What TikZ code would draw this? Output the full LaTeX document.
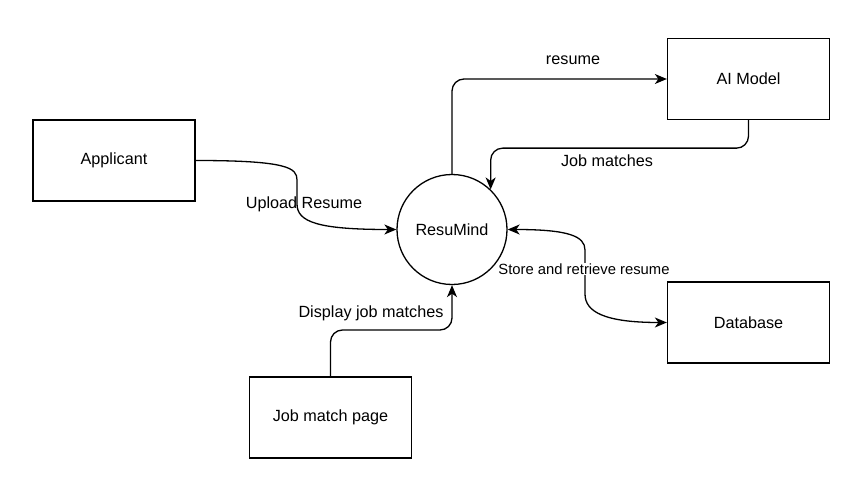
\documentclass[tikz,border=0pt]{standalone}
\usepackage{fontspec}
\setmainfont{Liberation Sans}
\usetikzlibrary{arrows.meta,calc}
\begin{document}
\begin{tikzpicture}[x=1pt,y=-1pt,
  font=\fontsize{16.2}{19}\selectfont,
  box/.style={draw, line width=1.3pt, minimum width=162pt, minimum height=81pt, inner sep=0pt},
  proc/.style={draw, circle, line width=1.3pt, minimum size=110pt, inner sep=0pt},
  conn/.style={line width=1.3pt, rounded corners=12pt},
  arr/.style={-{Stealth[length=12pt,width=10pt,inset=3.5pt]}},
  barr/.style={{Stealth[length=12pt,width=10pt,inset=3.5pt]}-{Stealth[length=12pt,width=10pt,inset=3.5pt]}},
  lbl/.style={inner sep=1pt}]
\useasboundingbox[fill=white] (0,0) rectangle (861,481);

\node[box] (ap) at (114,160.5) {Applicant};
\node[box] (ai) at (748.5,79) {AI Model};
\node[box] (db) at (748.5,322.5) {Database};
\node[box] (jm) at (330.5,417.5) {Job match page};
\node[proc] (rm) at (452,229.5) {ResuMind};

% Upload Resume
\draw[conn,arr] (ap.east) .. controls (288,160.5) and (297,168) .. (297,192)
  .. controls (297,222) and (318,229.5) .. (rm.west);
\node[lbl] (l1) at (304,204) {Upload Resume};

% resume
\draw[conn,arr] (rm.north) |- (ai.west);
\node[lbl] (l2) at (573,60) {resume};

% Job matches
\draw[conn,arr] (ai.south) -- ($(ai.south)+(0,28)$) -| (rm.46);
\node[lbl] (l3) at (607,161) {Job matches};

% Store and retrieve
\draw[conn,barr] (rm.east) .. controls (568,229.5) and (585,236) .. (585,262)
  -- (585,282) .. controls (585,312) and (605,322.5) .. (db.west);
\node[lbl,fill=white,font=\fontsize{14.8}{17}\selectfont] (l4) at (584,269) {Store and retrieve resume};

% Display job matches
\draw[conn,arr] (jm.north) -- (jm.north |- 0,330) -| (rm.south);
\node[lbl] (l5) at (371,313) {Display job matches};
\end{tikzpicture}
\end{document}
